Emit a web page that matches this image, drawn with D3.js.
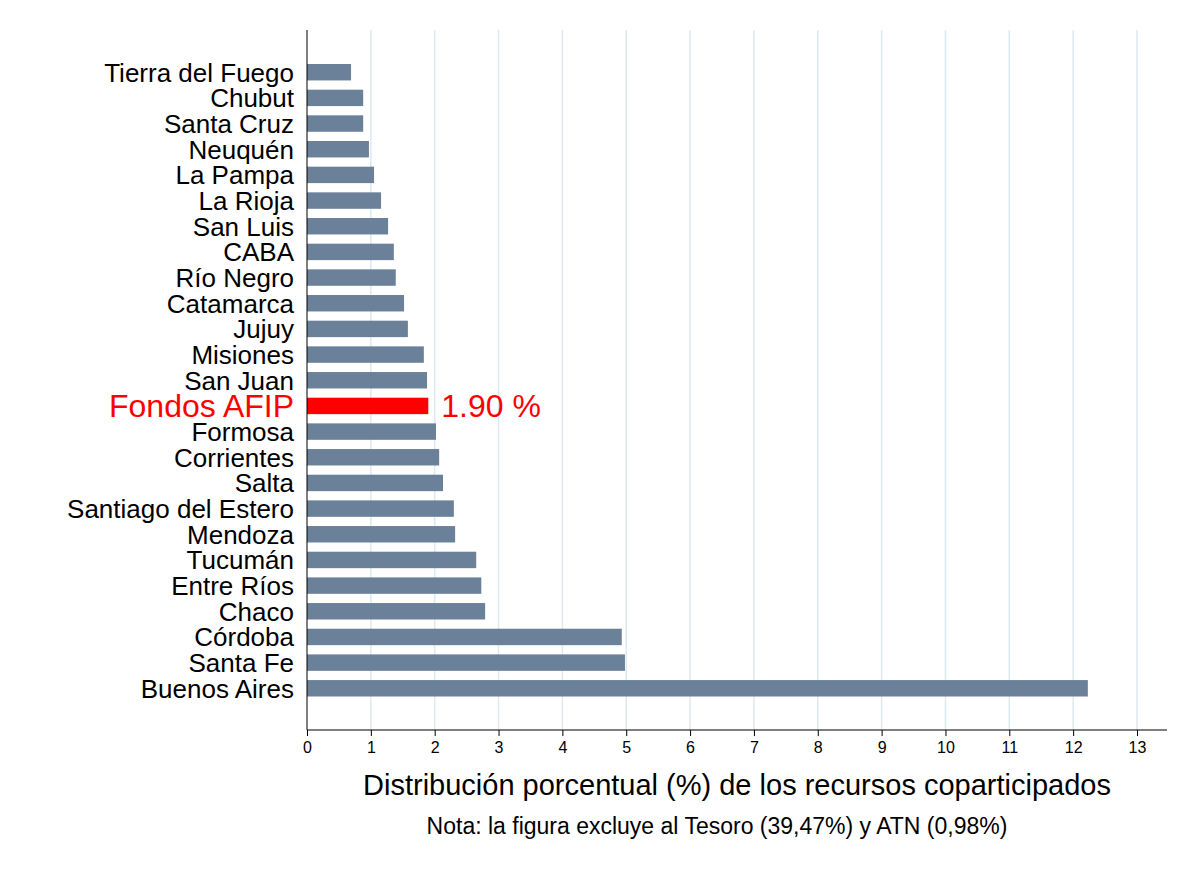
<!DOCTYPE html>
<html><head><meta charset="utf-8">
<script src="https://cdn.jsdelivr.net/npm/d3@7"></script>
<style>body{margin:0;background:#fff}text{font-family:"Liberation Sans",Arial,sans-serif}</style>
</head><body><svg id="chart" width="1200" height="872"></svg>
<script>
// provinces top to bottom
var provinces = ["Tierra del Fuego","Chubut","Santa Cruz","Neuquén","La Pampa ","La Rioja","San Luis","CABA","Río Negro","Catamarca","Jujuy","Misiones","San Juan","Fondos AFIP","Formosa","Corrientes","Salta","Santiago del Estero","Mendoza","Tucumán","Entre Ríos","Chaco","Córdoba","Santa Fe ","Buenos Aires"];
var shares = [0.69,0.88,0.88,0.97,1.05,1.16,1.27,1.36,1.39,1.52,1.58,1.83,1.88,1.90,2.02,2.07,2.13,2.30,2.32,2.65,2.73,2.79,4.93,4.98,12.23];
var xTicks = d3.range(0,14);
var highlight = "Fondos AFIP";

var svg = d3.select("#chart");
var x = d3.scaleLinear().domain([0,13]).range([307,1137]);
var y = d3.scaleBand().domain(provinces).range([64,696.5]).paddingInner(0.36).paddingOuter(0);

// grid
svg.selectAll(".grid").data(xTicks.slice(1)).enter().append("line")
    .attr("x1", d => x(d)).attr("x2", d => x(d)).attr("y1", 30).attr("y2", 730)
    .attr("stroke", "#dde9f0").attr("stroke-width", 1.5);

svg.selectAll(".bar").data(provinces).enter().append("rect")
    .attr("x", x(0)).attr("y", d => y(d))
    .attr("width", (d,i) => x(shares[i]) - x(0)).attr("height", y.bandwidth())
    .attr("fill", d => d == highlight ? "#ff0000" : "#6a8199");

// axes
var xAxis = svg.append("g").attr("transform","translate(0,730)")
    .call(d3.axisBottom(x).tickValues(xTicks).tickSize(6).tickSizeOuter(0));
xAxis.select(".domain").attr("d","M307,0H1167");
xAxis.selectAll("text").attr("font-size", 16).attr("fill","#000").attr("dy","0.9em");
xAxis.selectAll("line").attr("stroke","#000");

svg.append("line").attr("x1",307).attr("x2",307).attr("y1",30).attr("y2",730).attr("stroke","#000");

svg.selectAll(".lab").data(provinces).enter().append("text")
    .attr("x", 294).attr("y", d => y(d) + y.bandwidth()/2).attr("dy","0.36em")
    .attr("text-anchor","end")
    .attr("font-size", d => d == highlight ? 32 : 26)
    .attr("fill", d => d == highlight ? "#ff0000" : "#000")
    .text(d => d);

var hi = provinces.indexOf(highlight);
svg.append("text").attr("x", x(shares[hi]) + 13).attr("y", y(highlight) + y.bandwidth()/2)
    .attr("dy","0.36em").attr("font-size",32).attr("fill","#ff0000")
    .text(shares[hi].toFixed(2) + " %");

svg.append("text").attr("x",737).attr("y",795).attr("text-anchor","middle").attr("font-size",29)
    .text("Distribución porcentual (%) de los recursos coparticipados");
svg.append("text").attr("x",717).attr("y",834).attr("text-anchor","middle").attr("font-size",23)
    .text("Nota: la figura excluye al Tesoro (39,47%) y ATN (0,98%)");
</script></body></html>
